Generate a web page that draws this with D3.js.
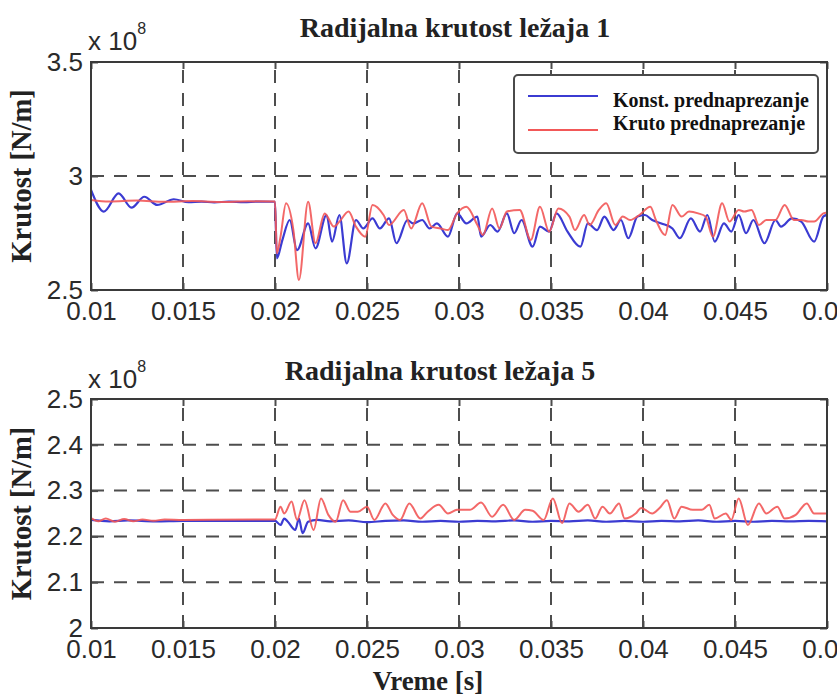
<!DOCTYPE html>
<html>
<head>
<meta charset="utf-8">
<script src="https://cdn.jsdelivr.net/npm/d3@7"></script>
<style>
  body { margin: 0; background: #fff; }
</style>
</head>
<body>
<div id="chart"></div>
<script>
// axes ticks
const xTicks = [0.01, 0.015, 0.02, 0.025, 0.03, 0.035, 0.04, 0.045, 0.05];
const xTickLabels = ["0.01", "0.015", "0.02", "0.025", "0.03", "0.035", "0.04", "0.045", "0.05"];
const topYTicks = [2.5, 3, 3.5];
const topYTickLabels = ["2.5", "3", "3.5"];
const botYTicks = [2, 2.1, 2.2, 2.3, 2.4, 2.5];
const botYTickLabels = ["2", "2.1", "2.2", "2.3", "2.4", "2.5"];
const seriesNames = ["Konst. prednaprezanje", "Kruto prednaprezanje"];

// bearing 1 - constant preload (blue)
const b1T = [0.0100, 0.0107, 0.0115, 0.0122, 0.0129, 0.0136, 0.0145, 0.0153, 0.0160, 0.0167, 0.0175, 0.0183, 0.0191, 0.0200,
  0.0201, 0.0204, 0.0208, 0.0212, 0.0218, 0.0222, 0.0228, 0.0231, 0.0235, 0.0239, 0.0244, 0.0248, 0.0253, 0.0257, 0.0262,
  0.0266, 0.0272, 0.0275, 0.0280, 0.0284, 0.0288, 0.0294, 0.0299, 0.0304, 0.0310, 0.0312, 0.0317, 0.0321, 0.0326, 0.0330,
  0.0334, 0.0340, 0.0344, 0.0349, 0.0353, 0.0359, 0.0366, 0.0370, 0.0375, 0.0379, 0.0384, 0.0388, 0.0392, 0.0397, 0.0401,
  0.0405, 0.0410, 0.0416, 0.0420, 0.0426, 0.0431, 0.0435, 0.0439, 0.0444, 0.0448, 0.0452, 0.0456, 0.0460, 0.0466, 0.0472,
  0.0475, 0.0481, 0.0486, 0.0493, 0.0498, 0.0500];
const b1V = [2.939, 2.844, 2.924, 2.861, 2.909, 2.873, 2.898, 2.885, 2.888, 2.884, 2.888, 2.885, 2.888, 2.887,
  2.639, 2.719, 2.807, 2.675, 2.792, 2.683, 2.829, 2.712, 2.829, 2.617, 2.807, 2.770, 2.814, 2.770, 2.814,
  2.705, 2.807, 2.792, 2.807, 2.770, 2.792, 2.734, 2.836, 2.792, 2.822, 2.734, 2.785, 2.756, 2.836, 2.749,
  2.807, 2.690, 2.778, 2.756, 2.836, 2.756, 2.690, 2.792, 2.763, 2.822, 2.763, 2.807, 2.727, 2.822, 2.829,
  2.807, 2.792, 2.770, 2.727, 2.814, 2.756, 2.829, 2.712, 2.792, 2.756, 2.829, 2.749, 2.807, 2.705, 2.807,
  2.778, 2.814, 2.800, 2.712, 2.822, 2.830];

// bearing 1 - rigid preload (red)
const r1T = [0.0100, 0.0110, 0.0125, 0.0140, 0.0155, 0.0170, 0.0185, 0.0200,
  0.0201, 0.0203, 0.0206, 0.0210, 0.0213, 0.0218, 0.0222, 0.0227, 0.0232, 0.0235, 0.0240, 0.0244, 0.0249, 0.0253,
  0.0259, 0.0262, 0.0270, 0.0274, 0.0280, 0.0285, 0.0290, 0.0294, 0.0299, 0.0304, 0.0310, 0.0313, 0.0318, 0.0322,
  0.0326, 0.0333, 0.0339, 0.0344, 0.0349, 0.0354, 0.0360, 0.0363, 0.0368, 0.0371, 0.0376, 0.0380, 0.0385, 0.0389,
  0.0393, 0.0398, 0.0404, 0.0407, 0.0412, 0.0416, 0.0421, 0.0425, 0.0430, 0.0434, 0.0438, 0.0443, 0.0447, 0.0452,
  0.0455, 0.0459, 0.0463, 0.0467, 0.0472, 0.0477, 0.0482, 0.0486, 0.0490, 0.0493, 0.0498, 0.0500];
const r1V = [2.895, 2.888, 2.892, 2.887, 2.890, 2.886, 2.889, 2.888,
  2.661, 2.734, 2.880, 2.763, 2.544, 2.887, 2.705, 2.836, 2.778, 2.800, 2.844, 2.778, 2.734, 2.873,
  2.829, 2.785, 2.851, 2.770, 2.880, 2.778, 2.770, 2.763, 2.836, 2.865, 2.785, 2.741, 2.858, 2.770,
  2.844, 2.851, 2.719, 2.865, 2.756, 2.858, 2.822, 2.763, 2.829, 2.785, 2.851, 2.880, 2.785, 2.822,
  2.807, 2.829, 2.865, 2.807, 2.741, 2.873, 2.822, 2.844, 2.836, 2.822, 2.734, 2.880, 2.800, 2.851,
  2.844, 2.851, 2.785, 2.807, 2.807, 2.873, 2.807, 2.807, 2.800, 2.800, 2.836, 2.840];

// bearing 5 - constant preload (blue)
const b5T = [0.0100, 0.0110, 0.0120, 0.0135, 0.0150, 0.0200, 0.0203, 0.0205, 0.0207, 0.0211, 0.0213, 0.0215, 0.0218,
  0.0223, 0.0230, 0.0240, 0.0250, 0.0260, 0.0270, 0.0280, 0.0290, 0.0300, 0.0310, 0.0320, 0.0330, 0.0340, 0.0350,
  0.0360, 0.0370, 0.0380, 0.0390, 0.0400, 0.0410, 0.0420, 0.0430, 0.0440, 0.0450, 0.0460, 0.0470, 0.0480, 0.0490, 0.0500];
const b5V = [2.236, 2.233, 2.235, 2.233, 2.234, 2.234, 2.225, 2.239, 2.232, 2.214, 2.239, 2.207, 2.232,
  2.236, 2.233, 2.235, 2.231, 2.234, 2.235, 2.232, 2.234, 2.232, 2.234, 2.233, 2.235, 2.232, 2.234,
  2.233, 2.235, 2.232, 2.234, 2.232, 2.234, 2.233, 2.235, 2.232, 2.234, 2.232, 2.234, 2.233, 2.234, 2.233];

// bearing 5 - rigid preload (red)
const r5T = [0.0100, 0.0104, 0.0108, 0.0113, 0.0118, 0.0123, 0.0128, 0.0134, 0.0140, 0.0150, 0.0200,
  0.0203, 0.0205, 0.0209, 0.0212, 0.0216, 0.0221, 0.0225, 0.0229, 0.0233, 0.0237, 0.0241, 0.0245, 0.0250, 0.0254,
  0.0260, 0.0264, 0.0268, 0.0273, 0.0279, 0.0283, 0.0289, 0.0294, 0.0299, 0.0306, 0.0312, 0.0318, 0.0324, 0.0330,
  0.0336, 0.0340, 0.0346, 0.0351, 0.0356, 0.0360, 0.0365, 0.0370, 0.0374, 0.0378, 0.0382, 0.0387, 0.0390, 0.0396,
  0.0399, 0.0405, 0.0409, 0.0413, 0.0417, 0.0421, 0.0427, 0.0432, 0.0436, 0.0439, 0.0445, 0.0448, 0.0452, 0.0457,
  0.0463, 0.0467, 0.0473, 0.0477, 0.0483, 0.0489, 0.0493, 0.0499, 0.0500];
const r5V = [2.240, 2.233, 2.239, 2.232, 2.238, 2.233, 2.237, 2.234, 2.237, 2.236, 2.237,
  2.265, 2.250, 2.276, 2.236, 2.279, 2.214, 2.283, 2.247, 2.232, 2.279, 2.254, 2.254, 2.265, 2.236,
  2.272, 2.247, 2.236, 2.272, 2.239, 2.254, 2.269, 2.250, 2.258, 2.258, 2.274, 2.243, 2.269, 2.236,
  2.258, 2.256, 2.236, 2.283, 2.229, 2.272, 2.254, 2.269, 2.239, 2.265, 2.250, 2.272, 2.239, 2.250,
  2.262, 2.250, 2.262, 2.279, 2.239, 2.265, 2.258, 2.258, 2.269, 2.239, 2.250, 2.236, 2.283, 2.225,
  2.272, 2.250, 2.265, 2.239, 2.247, 2.272, 2.250, 2.250, 2.250];

const W = 837, H = 697;
const blue = "#3b3bd2", red = "#f25858";
const gridColor = "#4d4d4d";
const serif = "'Liberation Serif', 'Times New Roman', serif";
const sans = "'Liberation Sans', Arial, sans-serif";

const svg = d3.select("#chart").append("svg")
  .attr("width", W).attr("height", H)
  .style("background", "#fff");

const x = d3.scaleLinear().domain([0.01, 0.05]).range([91, 827]);

function zip(t, v) { return t.map((d, i) => ({ t: d, v: v[i] })); }

function panel(opts) {
  const y = opts.y;
  const [y0, y1] = y.range();
  const g = svg.append("g");
  const clipId = "clip" + opts.id;

  g.append("clipPath").attr("id", clipId)
    .append("rect")
    .attr("x", x.range()[0]).attr("y", y1)
    .attr("width", x.range()[1] - x.range()[0]).attr("height", y0 - y1);

  // grid
  g.append("g").selectAll("line")
    .data(xTicks.slice(1, -1))
    .join("line")
    .attr("x1", d => x(d)).attr("x2", d => x(d))
    .attr("y1", y0).attr("y2", y1)
    .attr("stroke", gridColor).attr("stroke-width", 2)
    .attr("stroke-dasharray", "13,10");
  g.append("g").selectAll("line")
    .data(opts.yTicks.slice(1, -1))
    .join("line")
    .attr("x1", x.range()[0]).attr("x2", x.range()[1])
    .attr("y1", d => y(d)).attr("y2", d => y(d))
    .attr("stroke", gridColor).attr("stroke-width", 2)
    .attr("stroke-dasharray", "13,10");

  // data lines
  const line = d3.line().x(d => x(d.t)).y(d => y(d.v)).curve(d3.curveMonotoneX);
  const lines = g.append("g").attr("clip-path", `url(#${clipId})`);
  lines.append("path").datum(zip(opts.bT, opts.bV))
    .attr("d", line).attr("fill", "none")
    .attr("stroke", blue).attr("stroke-width", 2.2).attr("stroke-linejoin", "round");
  lines.append("path").datum(zip(opts.rT, opts.rV))
    .attr("d", line).attr("fill", "none")
    .attr("stroke", red).attr("stroke-width", 2).attr("stroke-linejoin", "round")
    .attr("opacity", 0.9);

  // axes
  const xAxis = d3.axisBottom(x).tickValues(xTicks)
    .tickFormat((d, i) => xTickLabels[i]).tickSizeInner(-7).tickSizeOuter(0).tickPadding(12);
  const ax = g.append("g").attr("transform", `translate(0,${y0})`).call(xAxis);
  const xTop = d3.axisTop(x).tickValues(xTicks).tickFormat("").tickSizeInner(-7).tickSizeOuter(0);
  const axt = g.append("g").attr("transform", `translate(0,${y1})`).call(xTop);
  const yAxis = d3.axisLeft(y).tickValues(opts.yTicks)
    .tickFormat((d, i) => opts.yLabels[i]).tickSizeInner(-7).tickSizeOuter(0).tickPadding(8);
  const ay = g.append("g").attr("transform", `translate(${x.range()[0]},0)`).call(yAxis);
  const yRight = d3.axisRight(y).tickValues(opts.yTicks).tickFormat("").tickSizeInner(-7).tickSizeOuter(0);
  const ayr = g.append("g").attr("transform", `translate(${x.range()[1]},0)`).call(yRight);

  [ax, axt, ay, ayr].forEach(a => {
    a.select(".domain").remove();
    a.selectAll(".tick line").attr("stroke", gridColor).attr("stroke-width", 2);
    a.selectAll("text").attr("font-family", sans).attr("font-size", 26).attr("fill", "#2a2a2a");
  });

  // box
  g.append("rect")
    .attr("x", x.range()[0]).attr("y", y1)
    .attr("width", x.range()[1] - x.range()[0]).attr("height", y0 - y1)
    .attr("fill", "none").attr("stroke", "#3a3a3a").attr("stroke-width", 2);

  // exponent
  const ex = g.append("text").attr("x", 88).attr("y", opts.expY)
    .attr("font-family", sans).attr("font-size", 26).attr("fill", "#2a2a2a")
    .text("x 10");
  ex.append("tspan").attr("dy", -16).attr("font-size", 16).text("8");

  // title
  g.append("text").attr("x", opts.titleX).attr("y", opts.titleY)
    .attr("text-anchor", "middle")
    .style("font-family", serif).attr("font-weight", "bold").attr("font-size", 28)
    .attr("fill", "#222").text(opts.title);

  // y label
  g.append("text")
    .attr("transform", `translate(31,${(y0 + y1) / 2}) rotate(-90)`)
    .attr("text-anchor", "middle")
    .style("font-family", serif).attr("font-weight", "bold").attr("font-size", 28.5)
    .attr("fill", "#222").text("Krutost [N/m]");

  return g;
}

const yTop = d3.scaleLinear().domain([2.5, 3.5]).range([290, 62]);
const yBot = d3.scaleLinear().domain([2.0, 2.5]).range([628, 399]);

const g1 = panel({ id: 1, y: yTop, yTicks: topYTicks, yLabels: topYTickLabels,
  bT: b1T, bV: b1V, rT: r1T, rV: r1V,
  title: "Radijalna krutost ležaja 1", titleX: 455, titleY: 37, expY: 50 });

panel({ id: 2, y: yBot, yTicks: botYTicks, yLabels: botYTickLabels,
  bT: b5T, bV: b5V, rT: r5T, rV: r5V,
  title: "Radijalna krutost ležaja 5", titleX: 440, titleY: 380, expY: 388 });

// legend
const lg = g1.append("g").attr("transform", "translate(514,75)");
lg.append("rect").attr("width", 304).attr("height", 78).attr("rx", 4)
  .attr("fill", "#fff").attr("stroke", "#4a4a4a").attr("stroke-width", 2);
const lItems = lg.selectAll("g.item").data(seriesNames).join("g")
  .attr("class", "item")
  .attr("transform", (d, i) => `translate(0,${i === 0 ? 21 : 55})`);
lItems.append("line").attr("x1", 14).attr("x2", 84)
  .attr("stroke", (d, i) => i === 0 ? blue : red).attr("stroke-width", 2);
lItems.append("text").attr("x", 99).attr("y", (d, i) => i === 0 ? 11 : 0)
  .style("font-family", serif).attr("font-weight", "bold").attr("font-size", 20)
  .attr("fill", "#111").text(d => d);

// x label
svg.append("text").attr("x", 428).attr("y", 690)
  .attr("text-anchor", "middle")
  .style("font-family", serif).attr("font-weight", "bold").attr("font-size", 27)
  .attr("fill", "#222").text("Vreme [s]");
</script>
</body>
</html>
